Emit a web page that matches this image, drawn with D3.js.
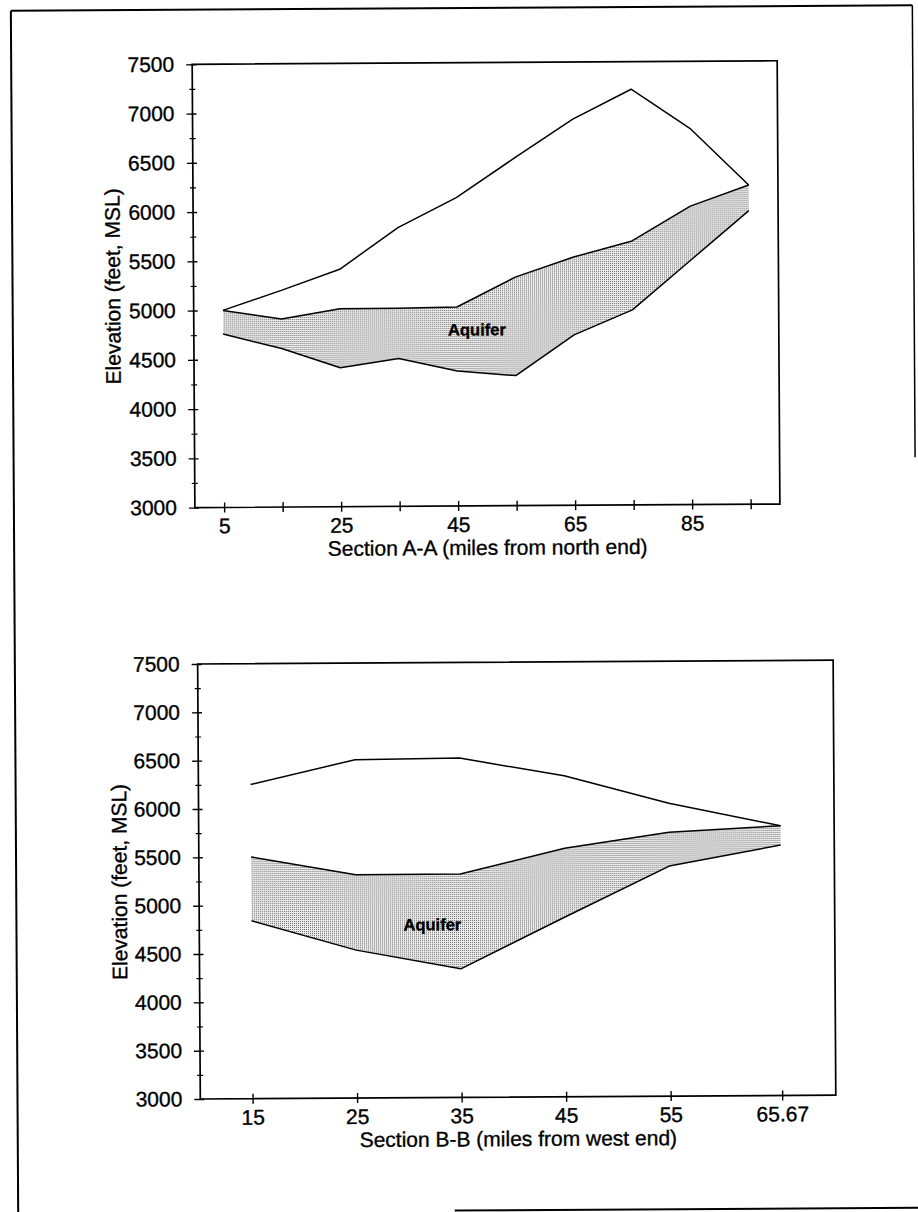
<!DOCTYPE html>
<html>
<head>
<meta charset="utf-8">
<script src="https://cdn.jsdelivr.net/npm/d3@7"></script>
<style>
  html, body { margin: 0; padding: 0; background: #fff; }
  svg { display: block; }
  text { font-family: "Liberation Sans", Arial, sans-serif; fill: #000; stroke: #000; stroke-width: 0.35px; }
</style>
</head>
<body>
<script>
// ---------- DATA ----------
// Section A-A (miles from north end)
const milesA = [5, 15, 25, 35, 45, 55, 65, 75, 85, 95];
const surfaceA = [5000, 5200, 5410, 5830, 6130, 6530, 6920, 7220, 6820, 6240];
const aquiferTopA = [5000, 4910, 5010, 5010, 5020, 5320, 5520, 5680, 6030, 6240];
const aquiferBottomA = [4760, 4610, 4410, 4500, 4370, 4320, 4730, 4980, 5480, 5980];
const xTicksA = [5, 15, 25, 35, 45, 55, 65, 75, 85, 95];
const xTickLabelsA = ["5", "", "25", "", "45", "", "65", "", "85", ""];

// Section B-B (miles from west end)
const milesB = [15, 25, 35, 45, 55, 65.67];
const surfaceB = [6250, 6500, 6510, 6320, 6030, 5790];
const aquiferTopB = [5500, 5310, 5310, 5570, 5730, 5790];
const aquiferBottomB = [4840, 4530, 4330, 4860, 5380, 5590];
const xTicksB = [15, 25, 35, 45, 55, 65.67];
const xTickLabelsB = ["15", "25", "35", "45", "55", "65.67"];

// Elevation axis (feet, MSL)
const yMajorTicks = [3000, 3500, 4000, 4500, 5000, 5500, 6000, 6500, 7000, 7500];
const yMinorTicks = [3250, 3750, 4250, 4750, 5250, 5750, 6250, 6750, 7250];

const yTitle = "Elevation (feet, MSL)";
const xTitleA = "Section A-A (miles from north end)";
const xTitleB = "Section B-B (miles from west end)";
const aquiferText = "Aquifer";

// ---------- DRAW ----------
const W = 918, H = 1212;
const svg = d3.select("body").append("svg").attr("width", W).attr("height", H);

const defs = svg.append("defs");
const pat = defs.append("pattern")
  .attr("id", "stipple").attr("patternUnits", "userSpaceOnUse")
  .attr("width", 2).attr("height", 2);
pat.append("rect").attr("width", 2).attr("height", 2).attr("fill", "#eeeeee");
pat.append("rect").attr("width", 1).attr("height", 1).attr("fill", "#6a6a6a");

const root = svg.append("g").attr("transform", "rotate(-0.35,459,606)");

// page frame
const frame = root.append("g").attr("stroke", "#000").attr("stroke-width", 2).attr("fill", "none");
frame.append("line").attr("x1", 14.5).attr("y1", 8).attr("x2", 916).attr("y2", 8);
frame.append("line").attr("x1", 14.5).attr("y1", 8).attr("x2", 14.5).attr("y2", 1216);
frame.append("line").attr("x1", 916).attr("y1", 8).attr("x2", 916).attr("y2", 460).attr("stroke-width", 1.5);
frame.append("line").attr("x1", 451).attr("y1", 1210.5).attr("x2", 930).attr("y2", 1210.5);

function drawChart(cfg) {
  const g = root.append("g");
  const x = d3.scaleLinear().domain(cfg.xDomain).range(cfg.xRange);
  const y = d3.scaleLinear().domain([3000, 7500]).range(cfg.yRange);

  const pts = cfg.miles.map((m, i) => ({ m, s: cfg.surface[i], t: cfg.top[i], b: cfg.bottom[i] }));

  // aquifer band
  const area = d3.area().x(d => x(d.m)).y0(d => y(d.b)).y1(d => y(d.t));
  g.append("path").datum(pts).attr("d", area).attr("fill", "url(#stipple)").attr("stroke", "none");

  const line = key => d3.line().x(d => x(d.m)).y(d => y(d[key]));
  ["s", "t", "b"].forEach(k => {
    g.append("path").datum(pts).attr("d", line(k))
      .attr("fill", "none").attr("stroke", "#000").attr("stroke-width", 1.5)
      .attr("stroke-linejoin", "round");
  });

  // plot box
  g.append("rect")
    .attr("x", cfg.xRange[0]).attr("y", cfg.yRange[1])
    .attr("width", cfg.xRange[1] - cfg.xRange[0]).attr("height", cfg.yRange[0] - cfg.yRange[1])
    .attr("fill", "none").attr("stroke", "#000").attr("stroke-width", 1.7);

  // y axis major
  const ya = g.append("g").attr("transform", `translate(${cfg.xRange[0]},0)`)
    .call(d3.axisLeft(y).tickValues(yMajorTicks).tickSize(6).tickPadding(12).tickFormat(d3.format("d")));
  ya.select(".domain").remove();
  ya.selectAll("line").attr("x1", 4).attr("x2", -6).attr("stroke", "#000").attr("stroke-width", 1.4);
  ya.selectAll("text").attr("font-size", 21).attr("font-family", "Liberation Sans, Arial, sans-serif");

  // y axis minor
  const ym = g.append("g").attr("transform", `translate(${cfg.xRange[0]},0)`)
    .call(d3.axisLeft(y).tickValues(yMinorTicks).tickSize(3).tickFormat(""));
  ym.select(".domain").remove();
  ym.selectAll("line").attr("x1", 3).attr("x2", -3).attr("stroke", "#000").attr("stroke-width", 1.2);

  // x axis
  const xa = g.append("g").attr("transform", `translate(0,${cfg.yRange[0]})`)
    .call(d3.axisBottom(x).tickValues(cfg.xTicks).tickSize(5).tickPadding(6)
      .tickFormat((d, i) => cfg.xLabels[i]));
  xa.select(".domain").remove();
  xa.selectAll("line").attr("y1", -5).attr("y2", 5).attr("stroke", "#000").attr("stroke-width", 1.4);
  xa.selectAll("text").attr("font-size", 21).attr("font-family", "Liberation Sans, Arial, sans-serif");

  // titles
  const cx = (cfg.xRange[0] + cfg.xRange[1]) / 2;
  const cy = (cfg.yRange[0] + cfg.yRange[1]) / 2;
  g.append("text").attr("x", cx).attr("y", cfg.yRange[0] + 49)
    .attr("text-anchor", "middle").attr("font-size", 21).text(cfg.xTitle);
  g.append("text")
    .attr("transform", `translate(${cfg.yTitleX},${cy}) rotate(-90)`)
    .attr("text-anchor", "middle").attr("font-size", 21).text(yTitle);

  // aquifer label
  g.append("text").attr("x", x(cfg.label[0])).attr("y", y(cfg.label[1]))
    .attr("text-anchor", "middle").attr("font-size", 16.5).attr("font-weight", "bold")
    .text(aquiferText);
}

drawChart({
  xDomain: [0, 100], xRange: [195.5, 780.5], yRange: [506, 62.7],
  miles: milesA, surface: surfaceA, top: aquiferTopA, bottom: aquiferBottomA,
  xTicks: xTicksA, xLabels: xTickLabelsA, xTitle: xTitleA, yTitleX: 122,
  label: [48.4, 4730]
});

drawChart({
  xDomain: [10, 70.8], xRange: [197.3, 832.8], yRange: [1097.4, 662.4],
  miles: milesB, surface: surfaceB, top: aquiferTopB, bottom: aquiferBottomB,
  xTicks: xTicksB, xLabels: xTickLabelsB, xTitle: xTitleB, yTitleX: 125,
  label: [32.3, 4730]
});
</script>
</body>
</html>
